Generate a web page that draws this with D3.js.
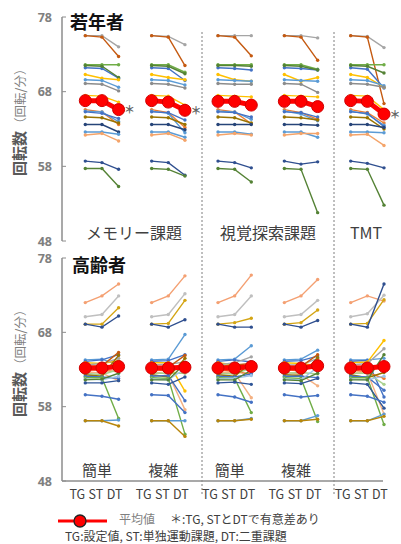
<!DOCTYPE html>
<html>
  <head>
    <meta charset="utf-8">
    <script src="https://d3js.org/d3.v7.min.js"></script>
    <style>
      body { margin: 0px; background: #fff; }
      text { font-family: 'Noto Sans CJK JP', 'Noto Sans', sans-serif; }
      .tick-label { fill: #7f7f7f; font-family: 'Open Sans', sans-serif; font-size: 12.5px; font-weight: bold; text-anchor: end; }
      .group-label { fill: #404040; font-size: 16px; text-anchor: middle; }
      .phase-label { fill: #404040; font-size: 12.5px; text-anchor: middle; }
      .title { fill: #111; font-size: 18px; font-weight: bold; }
      .ylab { fill: #595959; }
    </style>
  </head>
  <body>
    <script>
      // conditions: memory simple, memory complex, visual simple, visual complex, TMT
      const conditions = ['mem-easy', 'mem-hard', 'vis-easy', 'vis-hard', 'tmt'];
      const phases = ['TG', 'ST', 'DT'];
      const yTicks = [48, 58, 68, 78];

      // young subjects: TG value, then ST and DT per condition
      const youngTG = [75.5, 75.5, 71.6, 71.2, 71.5, 70.3, 69.6, 69.1, 67.5,
                       65.6, 65.4, 65.3, 64.6, 63.6, 62.6, 62.2, 58.7, 57.7];
      const youngST = [
        [75.5, 75.4, 75.5, 75.5, 75.4],
        [75.3, 75.3, 75.3, 75.3, 75.3],
        [71.6, 71.6, 71.6, 71.6, 71.6],
        [71.1, 71.1, 71.1, 71.1, 71.0],
        [71.4, 71.4, 71.5, 71.4, 71.4],
        [69.8, 69.9, 69.6, 69.4, 69.9],
        [69.5, 69.5, 69.5, 69.5, 69.5],
        [69.0, 69.0, 69.0, 69.0, 69.0],
        [67.4, 67.4, 67.4, 67.4, 67.4],
        [65.3, 65.2, 65.3, 65.2, 65.2],
        [65.3, 65.1, 65.3, 65.0, 65.0],
        [65.1, 65.2, 65.2, 65.2, 65.1],
        [64.5, 64.5, 64.5, 64.5, 64.5],
        [63.6, 63.6, 63.6, 63.6, 63.6],
        [62.6, 62.6, 62.6, 62.6, 62.6],
        [62.4, 62.4, 62.4, 62.4, 62.3],
        [58.5, 58.5, 58.5, 58.3, 58.4],
        [57.7, 57.6, 57.6, 57.6, 57.6]
      ];
      const youngDT = [
        [74.0, 74.3, 75.5, 75.2, 73.9],
        [72.7, 71.5, 72.8, 72.2, 66.4],
        [71.6, 70.6, 71.6, 71.0, 71.6],
        [69.8, 69.5, 70.9, 70.9, 68.5],
        [69.9, 70.4, 71.4, 70.9, 70.5],
        [69.6, 69.6, 69.4, 69.9, 68.6],
        [68.6, 68.9, 69.4, 69.4, 68.8],
        [68.1, 68.5, 69.0, 67.9, 68.6],
        [66.6, 66.2, 67.3, 67.3, 65.6],
        [63.6, 63.2, 63.7, 64.3, 63.8],
        [64.0, 62.5, 64.3, 64.1, 63.5],
        [64.4, 64.2, 64.6, 64.6, 63.3],
        [63.8, 63.6, 63.8, 64.2, 63.0],
        [62.6, 62.9, 63.6, 63.5, 63.2],
        [62.3, 61.9, 62.3, 61.9, 62.5],
        [61.4, 61.5, 62.2, 62.4, 60.8],
        [57.6, 56.8, 57.8, 58.6, 57.8],
        [55.3, 56.7, 55.9, 51.8, 52.8]
      ];
      const youngMean = [
        [66.8, 66.8, 65.6],
        [66.8, 66.6, 65.5],
        [66.7, 66.7, 66.2],
        [66.7, 66.7, 66.0],
        [66.8, 66.7, 65.0]
      ];
      const youngSig = [true, true, false, false, true];

      // elderly subjects
      const elderTG = [72.0, 70.1, 69.1, 69.1, 64.3, 64.1, 63.9, 63.6, 63.4, 63.0,
                       62.7, 62.5, 62.3, 62.1, 61.9, 61.7, 61.6, 61.2, 59.6, 56.1, 56.1];
      const elderST = [
        [72.9, 72.9, 72.9, 72.9, 72.9],
        [70.4, 70.4, 70.4, 70.4, 70.5],
        [69.1, 69.2, 69.3, 69.3, 69.2],
        [68.7, 68.7, 68.7, 68.7, 68.7],
        [64.4, 64.4, 64.4, 64.4, 64.3],
        [64.3, 64.2, 64.3, 64.2, 64.2],
        [63.8, 63.9, 63.6, 63.8, 64.0],
        [63.8, 63.7, 63.9, 63.6, 63.8],
        [63.5, 63.3, 63.6, 63.4, 63.4],
        [62.9, 62.8, 62.7, 62.8, 62.6],
        [62.5, 62.4, 62.5, 62.3, 62.6],
        [62.3, 62.5, 62.4, 62.6, 62.5],
        [62.1, 62.0, 62.1, 62.2, 61.9],
        [62.0, 62.2, 62.0, 62.1, 62.0],
        [61.9, 61.8, 61.8, 61.8, 61.9],
        [61.6, 61.6, 61.8, 61.6, 61.6],
        [61.7, 61.6, 61.6, 61.5, 61.6],
        [61.2, 61.0, 61.3, 61.1, 61.0],
        [59.4, 59.5, 59.3, 59.3, 59.4],
        [56.1, 56.1, 56.1, 56.1, 56.1],
        [56.1, 56.1, 56.1, 56.1, 56.1]
      ];
      const elderDT = [
        [74.5, 75.6, 75.7, 75.1, 72.2],
        [72.9, 73.2, 72.9, 72.3, 73.0],
        [71.3, 72.3, 69.9, 71.0, 72.4],
        [70.2, 69.7, 68.7, 69.6, 74.5],
        [63.6, 67.7, 66.2, 65.6, 64.5],
        [65.0, 65.0, 64.0, 64.8, 59.3],
        [64.2, 60.1, 63.0, 63.5, 66.9],
        [64.5, 64.0, 64.7, 64.5, 65.8],
        [65.3, 64.9, 63.8, 65.0, 63.5],
        [62.7, 63.3, 62.4, 64.3, 61.8],
        [61.5, 57.6, 59.2, 60.8, 57.0],
        [63.0, 62.5, 63.2, 62.4, 61.0],
        [64.9, 64.5, 63.9, 64.6, 62.6],
        [61.8, 58.8, 62.4, 61.9, 60.2],
        [56.4, 54.3, 57.2, 56.0, 55.6],
        [62.1, 63.1, 62.2, 63.3, 62.1],
        [62.5, 63.8, 62.9, 62.5, 65.0],
        [61.5, 62.0, 61.0, 61.8, 57.8],
        [59.0, 57.2, 58.6, 59.5, 58.6],
        [56.2, 56.1, 56.4, 56.8, 57.0],
        [55.4, 54.0, 56.3, 56.3, 56.7]
      ];
      const elderMean = [
        [63.2, 63.2, 63.4],
        [63.2, 63.2, 63.3],
        [63.2, 63.2, 63.4],
        [63.2, 63.2, 63.5],
        [63.2, 63.2, 63.4]
      ];

      const youngColors = ['#a5a5a5', '#c55a11', '#70ad47', '#4472c4', '#548235', '#ffc000',
        '#5b9bd5', '#8c8c8c', '#ffc000', '#ed7d31', '#5b9bd5', '#4472c4', '#997300',
        '#264478', '#5b9bd5', '#f4a46a', '#2f4f8f', '#548235'];
      const elderColors = ['#f4a072', '#bfbfbf', '#d4a514', '#2f4f8f', '#5b9bd5', '#4472c4',
        '#ffc000', '#a5a5a5', '#c55a11', '#ed7d31', '#f4b183', '#a9d18e', '#997300',
        '#4472c4', '#70ad47', '#9dc3e6', '#548235', '#2f5597', '#4472c4', '#5b9bd5', '#b8860b'];

      const svg = d3.select('body').append('svg')
        .attr('width', 401)
        .attr('height', 544);

      const groupX = d3.scaleLinear().domain([0, 4]).range([85.3, 350.7]);
      const phaseX = d3.scaleLinear().domain([0, 2]).range([0, 33.3]);
      const xPos = (g, j) => groupX(g) + phaseX(j);

      const yTop = d3.scaleLinear().domain([48, 78]).range([241, 17]);
      const yBot = d3.scaleLinear().domain([48, 78]).range([481, 258]);

      const axisColor = '#8c8c8c';

      function drawPanel(y, tg, st, dt, colors, means, sig) {
        const g = svg.append('g');
        // axis
        g.append('line')
          .attr('x1', 62).attr('x2', 62)
          .attr('y1', y(78)).attr('y2', y(48))
          .attr('stroke', axisColor).attr('stroke-width', 1.5);
        yTicks.forEach(t => {
          g.append('line')
            .attr('x1', 62).attr('x2', 66)
            .attr('y1', y(t)).attr('y2', y(t))
            .attr('stroke', axisColor).attr('stroke-width', 1);
          g.append('text')
            .attr('class', 'tick-label')
            .attr('x', 52).attr('y', y(t) + 4.5)
            .text(t);
        });

        const line = d3.line().x(d => d[0]).y(d => d[1]);

        tg.forEach((v, i) => {
          conditions.forEach((c, k) => {
            const pts = [[xPos(k, 0), y(v)], [xPos(k, 1), y(st[i][k])], [xPos(k, 2), y(dt[i][k])]];
            g.append('path')
              .attr('d', line(pts))
              .attr('fill', 'none')
              .attr('stroke', colors[i])
              .attr('stroke-width', 1.4);
            g.selectAll(null).data(pts).enter().append('circle')
              .attr('cx', d => d[0]).attr('cy', d => d[1])
              .attr('r', 1.7)
              .attr('fill', colors[i]);
          });
        });

        means.forEach((m, k) => {
          const pts = m.map((v, j) => [xPos(k, j), y(v)]);
          g.append('path')
            .attr('d', line(pts))
            .attr('fill', 'none')
            .attr('stroke', '#ff0000')
            .attr('stroke-width', 5);
          g.selectAll(null).data(pts).enter().append('circle')
            .attr('cx', d => d[0]).attr('cy', d => d[1])
            .attr('r', 6)
            .attr('fill', '#ff0000')
            .attr('stroke', '#d00000')
            .attr('stroke-width', 1);
          if (sig && sig[k]) {
            g.append('text')
              .attr('x', xPos(k, 2) + 11).attr('y', y(m[2]) + 4.5)
              .attr('text-anchor', 'middle')
              .attr('fill', '#666')
              .style('font-size', '11px')
              .style('font-weight', 'bold')
              .text('＊');
          }
        });
        return g;
      }

      // separators
      [202, 334].forEach(x => {
        svg.append('line')
          .attr('x1', x).attr('x2', x)
          .attr('y1', 32).attr('y2', 496)
          .attr('stroke', '#7f7f7f')
          .attr('stroke-width', 1)
          .attr('stroke-dasharray', '2,2');
      });

      drawPanel(yTop, youngTG, youngST, youngDT, youngColors, youngMean, youngSig);
      drawPanel(yBot, elderTG, elderST, elderDT, elderColors, elderMean, null);

      // bottom x axis
      svg.append('line')
        .attr('x1', 62).attr('x2', 383)
        .attr('y1', yBot(48)).attr('y2', yBot(48))
        .attr('stroke', axisColor).attr('stroke-width', 1.5);

      conditions.forEach((c, k) => {
        phases.forEach((p, j) => {
          svg.append('text')
            .attr('class', 'phase-label')
            .attr('x', xPos(k, j) - 6 + (j - 1) * 2)
            .attr('y', 499)
            .text(p);
        });
      });

      // titles
      svg.append('text').attr('class', 'title').attr('x', 70).attr('y', 29).text('若年者');
      svg.append('text').attr('class', 'title').attr('x', 72).attr('y', 272).text('高齢者');

      // group labels
      const topLabels = [['メモリー課題', 134], ['視覚探索課題', 268], ['TMT', 366]];
      topLabels.forEach(d => {
        svg.append('text').attr('class', 'group-label')
          .attr('x', d[1]).attr('y', 239).text(d[0]);
      });
      const botLabels = [['簡単', 0], ['複雑', 1], ['簡単', 2], ['複雑', 3]];
      botLabels.forEach(d => {
        svg.append('text').attr('class', 'group-label')
          .style('font-size', '15px')
          .attr('x', xPos(d[1], 1) - 5).attr('y', 476).text(d[0]);
      });

      // y axis labels
      [[25, 176], [25, 417]].forEach(p => {
        const t = svg.append('text')
          .attr('class', 'ylab')
          .attr('transform', `translate(${p[0]},${p[1]}) rotate(-90)`);
        t.append('tspan').style('font-size', '15px').style('font-weight', 'bold').text('回転数');
        t.append('tspan').style('font-size', '12.5px').attr('fill', '#7f7f7f').attr('dx', 1).text('（回転/分）');
      });

      // legend
      svg.append('line')
        .attr('x1', 58).attr('x2', 107)
        .attr('y1', 521).attr('y2', 521)
        .attr('stroke', '#ff0000').attr('stroke-width', 3);
      svg.append('circle')
        .attr('cx', 80).attr('cy', 521).attr('r', 6)
        .attr('fill', '#ff0000').attr('stroke', '#222').attr('stroke-width', 1.3);
      svg.append('text')
        .attr('x', 119).attr('y', 524)
        .attr('fill', '#7f7f7f')
        .style('font-size', '12px')
        .text('平均値');
      svg.append('text')
        .attr('x', 170).attr('y', 524)
        .attr('fill', '#404040')
        .style('font-size', '12px')
        .text('＊:TG, STとDTで有意差あり');
      svg.append('text')
        .attr('x', 65).attr('y', 541)
        .attr('fill', '#404040')
        .style('font-size', '12px')
        .text('TG:設定値, ST:単独運動課題, DT:二重課題');
    </script>
  </body>
</html>
